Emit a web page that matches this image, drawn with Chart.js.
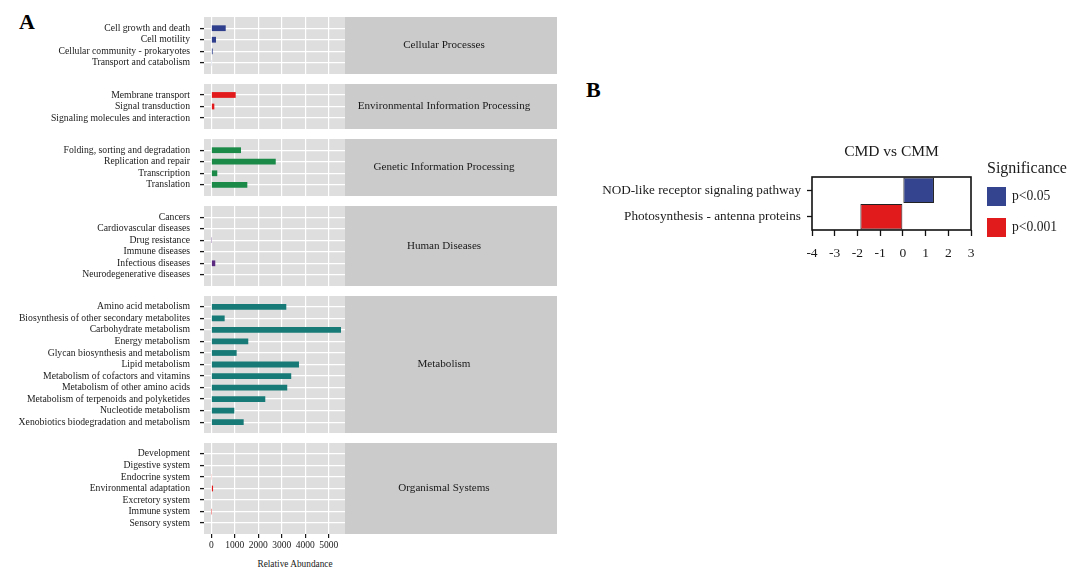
<!DOCTYPE html>
<html>
<head>
<meta charset="utf-8">
<script src="https://cdn.jsdelivr.net/npm/chart.js@4.4.1/dist/chart.umd.min.js"></script>
<style>
  body { margin: 0; background: #fff; }
  #wrap { position: relative; width: 1073px; height: 569px; overflow: hidden; font-family: "Liberation Serif", serif; background: #fff; }
  .box { position: absolute; }
  .box canvas { display: block; }
  .tag { position: absolute; font-weight: bold; font-size: 22px; line-height: 1; color: #000; }
  #xtitle { position: absolute; left: 235px; width: 120px; top: 560px; text-align: center; font-size: 9.3px; line-height: 1; color: #1a1a1a; }
</style>
</head>
<body>
<div id="wrap">
  <div class="tag" style="left:19px; top:11px;">A</div>
  <div class="tag" style="left:586px; top:79px;">B</div>
  <div id="xtitle">Relative Abundance</div>
</div>
<script>
// panel A : KEGG level 2 abundance, one facet per level 1 group
var facetNames = ["Cellular Processes", "Environmental Information Processing", "Genetic Information Processing",
                  "Human Diseases", "Metabolism", "Organismal Systems"];

var cellularCats = ["Cell growth and death", "Cell motility", "Cellular community - prokaryotes", "Transport and catabolism"];
var cellularVals = [615, 200, 60, 30];

var envCats = ["Membrane transport", "Signal transduction", "Signaling molecules and interaction"];
var envVals = [1040, 130, 0];

var geneticCats = ["Folding, sorting and degradation", "Replication and repair", "Transcription", "Translation"];
var geneticVals = [1265, 2745, 255, 1535];

var diseaseCats = ["Cancers", "Cardiovascular diseases", "Drug resistance", "Immune diseases", "Infectious diseases", "Neurodegenerative diseases"];
var diseaseVals = [0, 0, 12, 0, 170, 0];

var metabolismCats = ["Amino acid metabolism", "Biosynthesis of other secondary metabolites", "Carbohydrate metabolism",
                      "Energy metabolism", "Glycan biosynthesis and metabolism", "Lipid metabolism",
                      "Metabolism of cofactors and vitamins", "Metabolism of other amino acids",
                      "Metabolism of terpenoids and polyketides", "Nucleotide metabolism", "Xenobiotics biodegradation and metabolism"];
var metabolismVals = [3195, 570, 5525, 1575, 1080, 3735, 3405, 3235, 2300, 980, 1380];

var organismalCats = ["Development", "Digestive system", "Endocrine system", "Environmental adaptation",
                      "Excretory system", "Immune system", "Sensory system"];
var organismalVals = [0, 0, 20, 75, 0, 8, 0];

var abundanceTicks = [0, 1000, 2000, 3000, 4000, 5000];

// panel B : differential pathways
var pathwayCats = ["NOD-like receptor signaling pathway", "Photosynthesis - antenna proteins"];
var pathwayVals = [1.37, -1.87];
var pathwaySig = ["p<0.05", "p<0.001"];
var sigLevels = ["p<0.05", "p<0.001"];
var foldTicks = [-4, -3, -2, -1, 0, 1, 2, 3];

var facetColors = ['#2f3f8e', '#e31a1c', '#1b8a48', '#5c2a80', '#177a76', '#e31a1c'];
var sigColors = ['#34448f', '#e11a1c'];

Chart.defaults.font.family = '"Liberation Serif", "Times New Roman", serif';
Chart.defaults.color = '#1a1a1a';
Chart.defaults.animation = false;

var wrap = document.getElementById('wrap');

// grey panel + facet strip on the right
var stripPlugin = {
  id: 'strip',
  beforeDraw: function(chart) {
    var a = chart.chartArea, ctx = chart.ctx;
    ctx.save();
    ctx.fillStyle = '#dedede';
    ctx.fillRect(a.left, a.top, a.width, a.height);
    ctx.fillStyle = '#cbcbcb';
    ctx.fillRect(a.right, a.top, chart.width - a.right, a.height);
    ctx.restore();
  },
  afterDraw: function(chart, args, opts) {
    var a = chart.chartArea, ctx = chart.ctx;
    ctx.save();
    ctx.fillStyle = '#1a1a1a';
    ctx.font = '11.1px "Liberation Serif"';
    ctx.textAlign = 'center';
    ctx.textBaseline = 'middle';
    ctx.fillText(opts.label, a.right + 99, (a.top + a.bottom) / 2);
    ctx.restore();
  }
};

var ROW = 11.53;
var X_MIN = -310, X_MAX = 5695;

function addCanvas(left, top, w, h) {
  var box = document.createElement('div');
  box.className = 'box';
  box.style.left = left + 'px';
  box.style.top = top + 'px';
  var cv = document.createElement('canvas');
  cv.width = w;
  cv.height = h;
  box.appendChild(cv);
  wrap.appendChild(box);
  return cv;
}

function facetChart(name, cats, vals, color, top, h, last) {
  var cv = addCanvas(0, top, 557, h + (last ? 20 : 0));
  var ext = (h / ROW - (cats.length - 1)) / 2;
  new Chart(cv, {
    type: 'bar',
    data: {
      datasets: [{
        data: vals.map(function(v, i) { return {x: v, y: i}; }),
        backgroundColor: color,
        barPercentage: 0.5,
        categoryPercentage: 1
      }]
    },
    options: {
      responsive: false,
      indexAxis: 'y',
      layout: { padding: { right: 212 } },
      plugins: { legend: { display: false }, tooltip: { enabled: false }, strip: { label: name } },
      scales: {
        x: {
          type: 'linear', min: X_MIN, max: X_MAX, bounds: 'data',
          afterBuildTicks: function(s) { s.ticks = abundanceTicks.map(function(v) { return {value: v}; }); },
          grid: { color: '#ffffff', lineWidth: 1.2, drawTicks: last, tickLength: 4, tickColor: '#1a1a1a', tickWidth: 1.2 },
          border: { display: false },
          ticks: { display: last, padding: 2, maxRotation: 0, autoSkip: false, font: { size: 9.5 }, color: '#1a1a1a',
                   callback: function(v) { return String(v); } },
          afterFit: function(s) { s.height = last ? 20 : 0; s.paddingLeft = 0; s.paddingRight = 0; }
        },
        y: {
          type: 'linear', reverse: true, offset: false, min: -ext, max: cats.length - 1 + ext, bounds: 'data',
          afterBuildTicks: function(s) { s.ticks = cats.map(function(c, i) { return {value: i}; }); },
          grid: { offset: false, color: '#ffffff', lineWidth: 1.2, tickLength: 4, tickColor: '#1a1a1a', tickWidth: 1.3 },
          border: { display: false },
          ticks: { autoSkip: false, padding: 10, font: { size: 9.7, lineHeight: 1 }, color: '#1a1a1a',
                   callback: function(v) { return cats[v]; } },
          afterFit: function(s) { s.width = 204; s.paddingTop = 0; s.paddingBottom = 0; }
        }
      }
    },
    plugins: [stripPlugin]
  });
}

var facetCats = [cellularCats, envCats, geneticCats, diseaseCats, metabolismCats, organismalCats];
var facetVals = [cellularVals, envVals, geneticVals, diseaseVals, metabolismVals, organismalVals];

var y0 = 16.7;
facetNames.forEach(function(name, k) {
  var h = Math.round(facetCats[k].length * ROW + 10.5);
  facetChart(name, facetCats[k], facetVals[k], facetColors[k], Math.round(y0), h, k === facetNames.length - 1);
  y0 += h + 10;
});

// panel B
var panelBPlugin = {
  id: 'panelB',
  afterDraw: function(chart, args, opts) {
    var a = chart.chartArea, ctx = chart.ctx;
    ctx.save();
    ctx.strokeStyle = '#111';
    ctx.lineWidth = 1.6;
    ctx.strokeRect(a.left, a.top, a.width, a.height);
    ctx.fillStyle = '#1a1a1a';
    ctx.textBaseline = 'middle';
    ctx.font = '15.5px "Liberation Serif"';
    ctx.textAlign = 'center';
    ctx.fillText(opts.title, (a.left + a.right) / 2, a.top - 25);
    ctx.textAlign = 'left';
    ctx.font = '16px "Liberation Serif"';
    ctx.fillText(opts.legendTitle, a.right + 16, a.top - 8);
    ctx.font = '13.6px "Liberation Serif"';
    chart.data.datasets.forEach(function(ds, k) {
      var yy = a.top + 10 + k * 31;
      ctx.fillStyle = ds.backgroundColor;
      ctx.fillRect(a.right + 16, yy, 19, 19);
      ctx.fillStyle = '#1a1a1a';
      ctx.fillText(ds.label, a.right + 41, yy + 9.5);
    });
    ctx.restore();
  }
};

var cvB = addCanvas(580, 130, 493, 132);
new Chart(cvB, {
  type: 'bar',
  data: {
    labels: pathwayCats,
    datasets: sigLevels.map(function(s, k) {
      return {
        label: s,
        data: pathwayVals.map(function(v, i) { return pathwaySig[i] === s ? v : null; }),
        backgroundColor: sigColors[k],
        borderColor: '#222',
        borderWidth: 1,
        borderSkipped: false,
        grouped: false,
        barPercentage: 0.96,
        categoryPercentage: 1
      };
    })
  },
  options: {
    responsive: false,
    indexAxis: 'y',
    layout: { padding: { top: 47, right: 102 } },
    plugins: { legend: { display: false }, tooltip: { enabled: false },
               panelB: { title: 'CMD vs CMM', legendTitle: 'Significance' } },
    scales: {
      x: {
        type: 'linear', min: -4, max: 3, bounds: 'data',
        afterBuildTicks: function(s) { s.ticks = foldTicks.map(function(v) { return {value: v}; }); },
        grid: { drawOnChartArea: false, tickLength: 6, tickColor: '#111', tickWidth: 1.3 },
        border: { display: false },
        ticks: { padding: 9, maxRotation: 0, autoSkip: false, font: { size: 13.5 }, color: '#1a1a1a' },
        afterFit: function(s) { s.height = 32; }
      },
      y: {
        type: 'category', offset: true,
        grid: { offset: false, drawOnChartArea: false, tickLength: 5, tickColor: '#111', tickWidth: 1.3 },
        border: { display: false },
        ticks: { padding: 6, font: { size: 13.2 }, color: '#1a1a1a' },
        afterFit: function(s) { s.width = 232; }
      }
    }
  },
  plugins: [panelBPlugin]
});
</script>
</body>
</html>
